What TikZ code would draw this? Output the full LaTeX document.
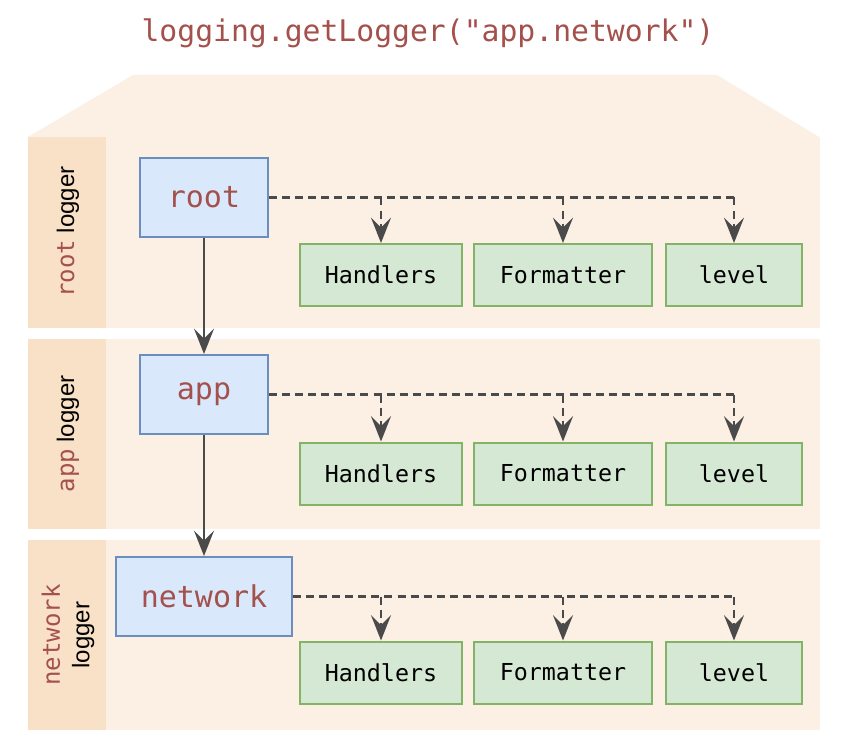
\documentclass[tikz,border=0pt]{standalone}
\usepackage{fontspec}
\setmainfont{Liberation Sans}
\setmonofont{DejaVu Sans Mono}
\usetikzlibrary{arrows.meta}
\definecolor{band}{HTML}{FCEFE3}
\definecolor{labcol}{HTML}{F9E1C8}
\definecolor{codered}{HTML}{A4504C}
\definecolor{bluefill}{HTML}{DAE8FC}
\definecolor{blueline}{HTML}{6C8EBF}
\definecolor{greenfill}{HTML}{D5E8D4}
\definecolor{greenline}{HTML}{82B366}
\definecolor{arrowgray}{HTML}{4A4A4A}
\tikzset{
  loggerbox/.style={draw=blueline, fill=bluefill, line width=1.5pt, minimum height=59.25pt,
    font=\fontsize{22.5pt}{26pt}\ttfamily, text=codered, inner sep=0pt},
  attrbox/.style={draw=greenline, fill=greenfill, line width=1.5pt, minimum height=46.5pt,
    font=\fontsize{17.5pt}{20pt}\ttfamily, text=black, inner sep=0pt},
  tipshape/.style={-{Stealth[length=19pt,width=15pt,inset=7.5pt]}},
  parentarrow/.style={draw=arrowgray, line width=1.9pt, tipshape},
  attrline/.style={draw=arrowgray, line width=1.9pt, dash pattern=on 6pt off 3.8pt},
  attrarrow/.style={attrline, tipshape},
  sidelabel/.style={rotate=90, align=center, font=\fontsize{18pt}{22pt}\selectfont, inner sep=0pt},
}
\newcommand{\cw}[1]{{\ttfamily\color{codered}#1}}
\begin{document}
\begin{tikzpicture}[x=0.75pt,y=-0.75pt]
\useasboundingbox (0,0) rectangle (850,752);
\fill[white] (0,0) rectangle (850,752);
% title
\node[font=\fontsize{22.3pt}{26pt}\ttfamily, text=codered] (title) at (428,33) {logging.getLogger("app.network")};
% top trapezoid and bands
\fill[band] (28,137) -- (133,75) -- (717,75) -- (819,137) -- cycle;
\fill[band] (28,137) rectangle (820,328);
\fill[band] (28,339) rectangle (820,529);
\fill[band] (28,540) rectangle (820,730);
\fill[labcol] (28,137) rectangle (106,328);
\fill[labcol] (28,339) rectangle (106,529);
\fill[labcol] (28,540) rectangle (106,730);
% side labels
\node[sidelabel] (lab1) at (68,232) {\cw{root} logger};
\node[sidelabel] (lab2) at (68,434) {\cw{app} logger};
\node[sidelabel] (lab3) at (68,635) {\cw{network}\\logger};
% logger boxes
\node[loggerbox, minimum width=96pt] (root) at (204,197.5) {root};
\node[loggerbox, minimum width=96pt] (app) at (204,394.5) {app};
\node[loggerbox, minimum width=132pt] (net) at (204,596.5) {network};
% attribute boxes
\foreach \r/\y in {1/275, 2/473.5, 3/672.5}{
  \node[attrbox, minimum width=121.5pt] (h\r) at (381,\y) {Handlers};
  \node[attrbox, minimum width=133.5pt] (f\r) at (563,\y) {Formatter};
  \node[attrbox, minimum width=102pt] (l\r) at (734,\y) {level};
}
% parent arrows
\draw[parentarrow] (root) -- (app);
\draw[parentarrow] (app) -- (net);
% dashed attribute connectors
\foreach \src/\r in {root/1, app/2, net/3}{
  \draw[attrline] (\src.east) -- (\src.east -| l\r.north);
  \draw[attrarrow] (\src.east -| h\r.north) -- (h\r.north);
  \draw[attrarrow] (\src.east -| f\r.north) -- (f\r.north);
  \draw[attrarrow] (\src.east -| l\r.north) -- (l\r.north);
}
\end{tikzpicture}
\end{document}
